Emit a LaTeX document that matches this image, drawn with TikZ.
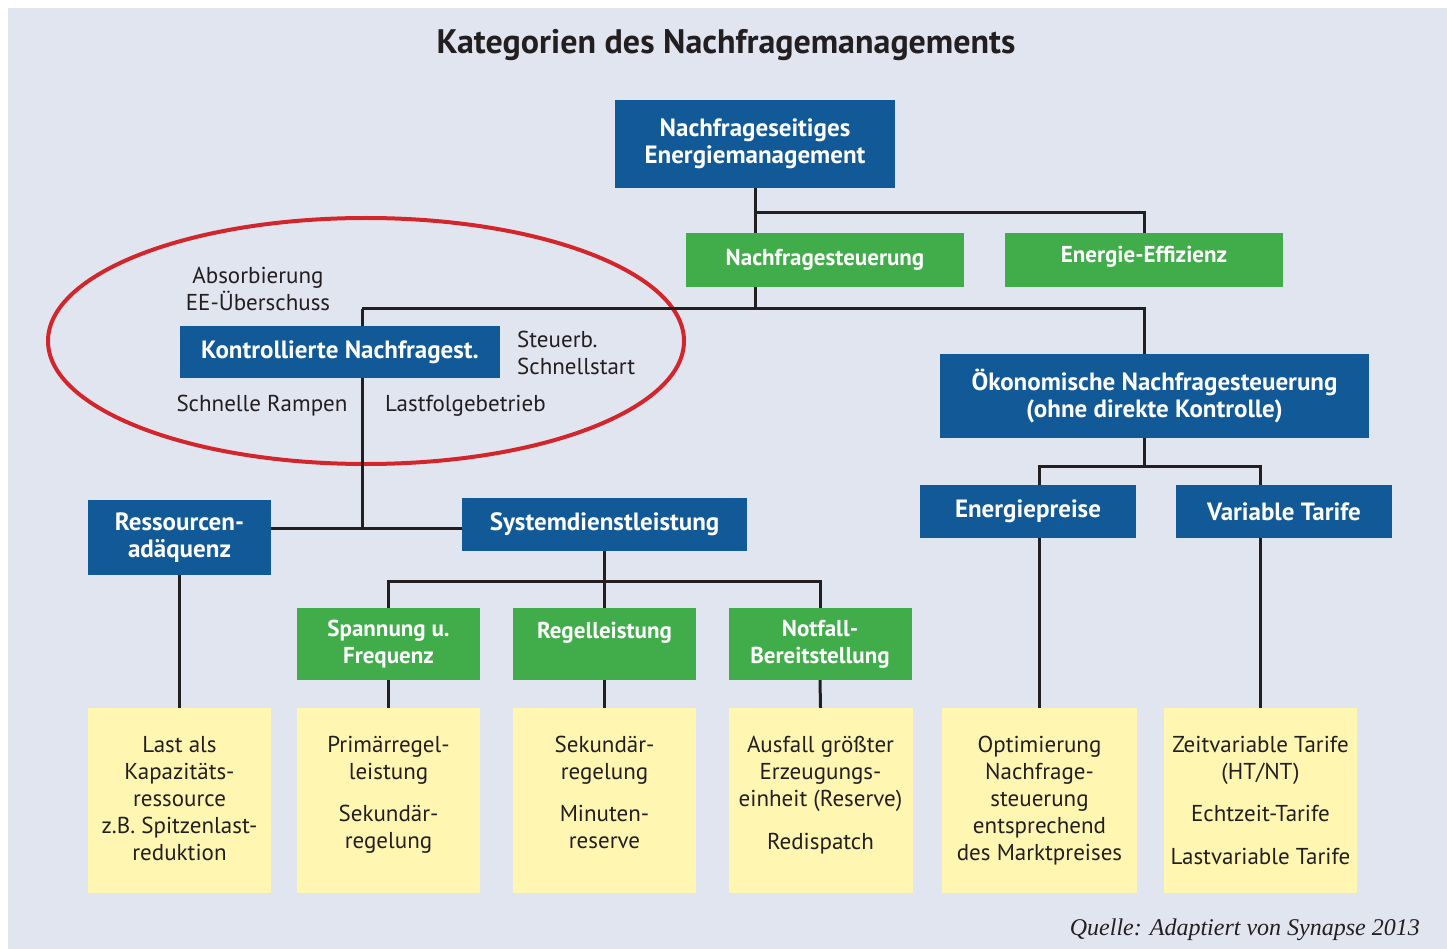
\documentclass[tikz,border=0pt]{standalone}
\usepackage{fontspec}
\setmainfont{PT Sans}
\newfontfamily\quellefont{Liberation Serif}
\usetikzlibrary{positioning}

\definecolor{hgrund}{HTML}{E1E5F0}
\definecolor{dsmblau}{HTML}{125A97}
\definecolor{dsmgruen}{HTML}{41AD4A}
\definecolor{dsmgelb}{HTML}{FFF6B2}
\definecolor{dsmrot}{HTML}{D3262C}
\definecolor{linie}{HTML}{231F20}

\begin{document}
\begin{tikzpicture}[x=1pt,y=-1pt,
  every node/.style={inner sep=0pt,align=center,text=linie,font=\fontsize{23}{27}\selectfont},
  blau/.style={fill=dsmblau,text=white,font=\bfseries\fontsize{25}{27}\selectfont},
  gruen/.style={fill=dsmgruen,text=white,font=\bfseries\fontsize{23}{27}\selectfont},
  gelb/.style={fill=dsmgelb,minimum width=183,minimum height=185},
  gelbtext/.style={below=28pt of #1.north},
  conn/.style={draw=linie,line width=3pt}]
\useasboundingbox (0,0) rectangle (1447,949);
\fill[hgrund] (8,8) rectangle (1447,949);
\node[font=\bfseries\fontsize{34}{40}\selectfont] (titel) at (726,45) {Kategorien des Nachfragemanagements};

\node[blau,minimum width=280,minimum height=88] (root) at (755,144) {Nachfrageseitiges\\Energiemanagement};
\node[gruen,minimum width=278,minimum height=54] (nfs) at (825,260) {Nachfragesteuerung};
\node[gruen,minimum width=278,minimum height=54] (eff) at (1144,260) {\raisebox{12pt}{Energie-Effizienz}};
\node[blau,minimum width=320,minimum height=52] (kn) at (340,352) {Kontrollierte Nachfragest.};
\node[blau,minimum width=429,minimum height=84] (oek) at (1154.5,396) {Ökonomische Nachfragesteuerung\\(ohne direkte Kontrolle)};
\node[blau,minimum width=216,minimum height=53] (ep) at (1028,511.5) {Energiepreise};
\node[blau,minimum width=216,minimum height=53] (vt) at (1284,511.5) {Variable Tarife};
\node[blau,minimum width=183,minimum height=75] (res) at (179.5,537.5) {Ressourcen-\\adäquenz};
\node[blau,minimum width=285,minimum height=53] (sys) at (604.5,524.5) {Systemdienstleistung};
\node[gruen,minimum width=183,minimum height=72] (sp) at (388.5,644) {Spannung u.\\Frequenz};
\node[gruen,minimum width=183,minimum height=72] (rl) at (604.5,644) {Regelleistung\\ \mbox{}};
\node[gruen,minimum width=183,minimum height=72] (nf) at (820,644) {Notfall-\\Bereitstellung};

\node[gelb] (y1) at (179.5,800.5) {};
\node[gelb] (y2) at (388.5,800.5) {};
\node[gelb] (y3) at (604.5,800.5) {};
\node[gelb,minimum width=184] (y4) at (820.5,800.5) {};
\node[gelb,minimum width=195] (y5) at (1039.5,800.5) {};
\node[gelb,minimum width=193] (y6) at (1260.5,800.5) {};
\node[gelbtext=y1] (y1t) {Last als\\Kapazitäts-\\ressource\\z.B. Spitzenlast-\\reduktion};
\node[gelbtext=y2] (y2t) {Primärregel-\\leistung\\[15pt]Sekundär-\\regelung};
\node[gelbtext=y3] (y3t) {Sekundär-\\regelung\\[15pt]Minuten-\\reserve};
\node[gelbtext=y4] (y4t) {Ausfall größter\\Erzeugungs-\\einheit (Reserve)\\[16pt]Redispatch};
\node[gelbtext=y5] (y5t) {Optimierung\\Nachfrage-\\steuerung\\entsprechend\\des Marktpreises};
\node[gelbtext=y6] (y6t) {Zeitvariable Tarife\\(HT/NT)\\[15pt]Echtzeit-Tarife\\[16pt]Lastvariable Tarife};

\node (abs) at (258,289) {Absorbierung\\EE-Überschuss};
\node[anchor=west,align=left] (stb) at (517,353) {Steuerb.\\Schnellstart};
\node (ramp) at (262,406) {Schnelle Rampen};
\node[anchor=west] (lfb) at (385,406) {Lastfolgebetrieb};
\draw[dsmrot,line width=4pt] (366,341) ellipse [x radius=318,y radius=123];

\coordinate (a) at (755,213);
\coordinate (b) at (755,309);
\coordinate (c) at (362,309);
\coordinate (d) at (1144,309);
\coordinate (e) at (362,528);
\coordinate (f) at (1144,466);
\coordinate (g) at (604.5,581);

\draw[conn] (root.south) -- (root.south |- nfs.north);
\draw[conn] (a) -| (eff.north);
\draw[conn] (b |- nfs.south) -- (b);
\draw[conn] (c) -- (d) -- (d |- oek.north);
\draw[conn] (c) -- (c |- kn.north);
\draw[conn] (c |- kn.south) -- (e);
\draw[conn] (res.east |- e) -- (sys.west |- e);
\draw[conn] (sys.south) -- (g);
\draw[conn] (sp.north) |- (g) -| (nf.north);
\draw[conn] (g) -- (rl.north);
\draw[conn] (res.south) -- (y1.north);
\draw[conn] (sp.south) -- (y2.north);
\draw[conn] (rl.south) -- (y3.north);
\draw[conn] (nf.south) -- (y4.north);
\draw[conn] (oek.south -| f) -- (f);
\draw[conn] (y5 |- ep.north) |- (f) -| (y6 |- vt.north);
\draw[conn] (y5 |- ep.south) -- (y5.north);
\draw[conn] (y6 |- vt.south) -- (y6.north);

\node[anchor=east,font=\quellefont\itshape\fontsize{24}{28}\selectfont] (quelle) at (1420,930) {Quelle: Adaptiert von Synapse 2013};
\end{tikzpicture}
\end{document}
